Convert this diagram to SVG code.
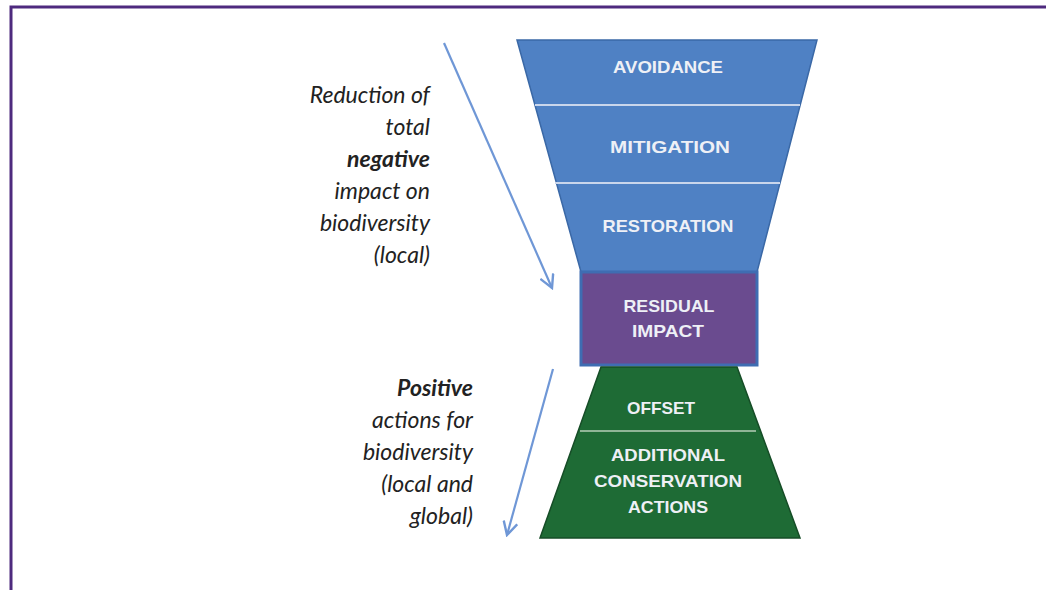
<svg xmlns="http://www.w3.org/2000/svg" width="1046" height="590" viewBox="0 0 1046 590">
<defs>
<style>
.lbl{font-family:"Liberation Sans",Arial,sans-serif;font-weight:bold;font-size:17px;fill:#eef0f6;text-anchor:middle;}
.side{font-family:Lato,"Open Sans",sans-serif;font-style:italic;font-size:23px;fill:#222;text-anchor:end;}
.b{font-weight:bold;}
.conn{stroke:#6f97d6;stroke-width:2.2;fill:none;}
.div{stroke:#c9d6ec;stroke-width:2;}
</style>
<marker id="vhead" viewBox="0 0 16 16" refX="14" refY="8" markerWidth="16" markerHeight="16" markerUnits="userSpaceOnUse" orient="auto">
<polyline points="1,1 14,8 1,15" fill="none" stroke="#6f97d6" stroke-width="2.4"/>
</marker>
</defs>
<rect width="1046" height="590" fill="#ffffff"/>
<g id="frame" fill="none" stroke="#4e2a7e" stroke-width="3">
<polyline points="11,590 11,7 1046,7"/>
</g>
<g id="funnel-top">
<polygon points="517,40 817,40 757,272 581,272" fill="#4f81c4" stroke="#3a68a6" stroke-width="1.5"/>
<line class="div" x1="535" y1="105" x2="800" y2="105"/>
<line class="div" x1="555" y1="183" x2="780" y2="183"/>
</g>
<g id="avoidance"><text class="lbl" x="668" y="73" textLength="110" lengthAdjust="spacingAndGlyphs">AVOIDANCE</text></g>
<g id="mitigation"><text class="lbl" x="670" y="153" textLength="120" lengthAdjust="spacingAndGlyphs">MITIGATION</text></g>
<g id="restoration"><text class="lbl" x="668" y="232" textLength="131" lengthAdjust="spacingAndGlyphs">RESTORATION</text></g>
<g id="residual-impact">
<rect x="581" y="272" width="176" height="93" fill="#6a4b8f" stroke="#3f6db2" stroke-width="3"/>
<text class="lbl" x="669" y="312" textLength="91" lengthAdjust="spacingAndGlyphs">RESIDUAL</text>
<text class="lbl" x="668" y="337" textLength="72" lengthAdjust="spacingAndGlyphs">IMPACT</text>
</g>
<g id="funnel-bottom">
<polygon points="601,367 737,367 800,538 540,538" fill="#1e6b35" stroke="#164d27" stroke-width="1.5"/>
<line x1="580" y1="431" x2="756" y2="431" stroke="#8fb596" stroke-width="2"/>
</g>
<g id="offset"><text class="lbl" x="661" y="414" textLength="68" lengthAdjust="spacingAndGlyphs">OFFSET</text></g>
<g id="additional">
<text class="lbl" x="668" y="461" textLength="114" lengthAdjust="spacingAndGlyphs">ADDITIONAL</text>
<text class="lbl" x="668" y="487" textLength="148" lengthAdjust="spacingAndGlyphs">CONSERVATION</text>
<text class="lbl" x="668" y="513" textLength="80" lengthAdjust="spacingAndGlyphs">ACTIONS</text>
</g>
<g id="connectors">
<line class="conn" x1="444" y1="43" x2="552" y2="288" marker-end="url(#vhead)"/>
<line class="conn" x1="553" y1="369" x2="507" y2="535" marker-end="url(#vhead)"/>
</g>
<g id="note-negative">
<text class="side" x="430" y="103">Reduction of</text>
<text class="side" x="430" y="135">total</text>
<text class="side b" x="430" y="167">negative</text>
<text class="side" x="430" y="199">impact on</text>
<text class="side" x="430" y="231">biodiversity</text>
<text class="side" x="430" y="263">(local)</text>
</g>
<g id="note-positive">
<text class="side b" x="473" y="396">Positive</text>
<text class="side" x="473" y="428">actions for</text>
<text class="side" x="473" y="460">biodiversity</text>
<text class="side" x="473" y="492">(local and</text>
<text class="side" x="473" y="524">global)</text>
</g>
</svg>
